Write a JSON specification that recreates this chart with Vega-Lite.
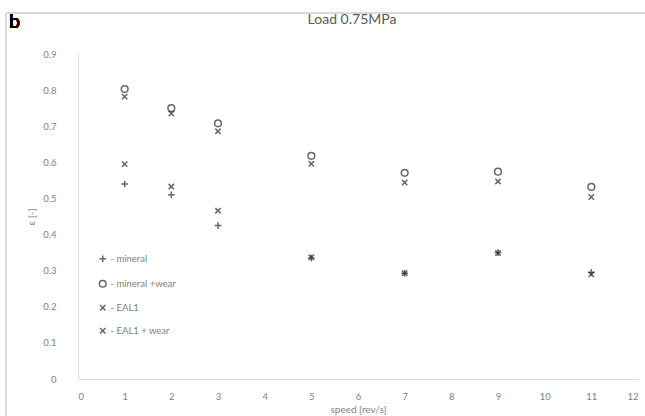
{
  "$schema": "https://vega.github.io/schema/vega-lite/v6.json",
  "width": 560,
  "height": 325,
  "autosize": "none",
  "padding": {"left": 78, "top": 54, "right": 7, "bottom": 37},
  "background": "white",
  "config": {
    "view": {"stroke": null},
    "font": "Lato",
    "axis": {"grid": false, "ticks": false, "labelOverlap": false, "domainColor": "#d9d9d9", "labelColor": "#7f7f7f", "labelFontSize": 9.5, "titleColor": "#7f7f7f", "titleFontSize": 10, "titleFontWeight": "normal"}
  },
  "title": {"text": "Load 0.75MPa", "fontSize": 14, "fontWeight": "normal", "color": "#595959", "offset": -14, "dx": -6, "font": "Lato"},
  "data": {"values": [
    {"speed": 1, "series": "mineral", "eps": 0.54},
    {"speed": 2, "series": "mineral", "eps": 0.51},
    {"speed": 3, "series": "mineral", "eps": 0.425},
    {"speed": 5, "series": "mineral", "eps": 0.335},
    {"speed": 7, "series": "mineral", "eps": 0.293},
    {"speed": 9, "series": "mineral", "eps": 0.35},
    {"speed": 11, "series": "mineral", "eps": 0.295},
    {"speed": 1, "series": "mineral +wear", "eps": 0.803},
    {"speed": 2, "series": "mineral +wear", "eps": 0.75},
    {"speed": 3, "series": "mineral +wear", "eps": 0.708},
    {"speed": 5, "series": "mineral +wear", "eps": 0.618},
    {"speed": 7, "series": "mineral +wear", "eps": 0.571},
    {"speed": 9, "series": "mineral +wear", "eps": 0.574},
    {"speed": 11, "series": "mineral +wear", "eps": 0.532},
    {"speed": 1, "series": "EAL1", "eps": 0.595},
    {"speed": 2, "series": "EAL1", "eps": 0.533},
    {"speed": 3, "series": "EAL1", "eps": 0.466},
    {"speed": 5, "series": "EAL1", "eps": 0.337},
    {"speed": 7, "series": "EAL1", "eps": 0.293},
    {"speed": 9, "series": "EAL1", "eps": 0.349},
    {"speed": 11, "series": "EAL1", "eps": 0.29},
    {"speed": 1, "series": "EAL1 + wear", "eps": 0.782},
    {"speed": 2, "series": "EAL1 + wear", "eps": 0.735},
    {"speed": 3, "series": "EAL1 + wear", "eps": 0.686},
    {"speed": 5, "series": "EAL1 + wear", "eps": 0.596},
    {"speed": 7, "series": "EAL1 + wear", "eps": 0.544},
    {"speed": 9, "series": "EAL1 + wear", "eps": 0.547},
    {"speed": 11, "series": "EAL1 + wear", "eps": 0.504}
  ]},
  "layer": [
    {
      "mark": {"type": "point", "filled": false, "strokeWidth": 1.5, "color": "#262626", "size": 45},
      "encoding": {
        "x": {"field": "speed", "type": "quantitative", "title": "speed [rev/s]",
              "scale": {"domain": [0, 12], "nice": false},
              "axis": {"values": [0,1,2,3,4,5,6,7,8,9,10,11,12], "labelPadding": 12, "titlePadding": 4, "labelOverlap": false}},
        "y": {"field": "eps", "type": "quantitative", "title": "ε [-]",
              "scale": {"domain": [0, 0.9], "nice": false},
              "axis": {"tickCount": 9, "labelExpr": "datum.value == 0 ? '0' : format(datum.value, '.1f')", "labelPadding": 22, "titlePadding": 6, "labelOverlap": false, "labelBound": false, "labelFlush": false}},
        "shape": {"field": "series", "type": "nominal",
                  "scale": {"domain": ["mineral", "mineral +wear", "EAL1", "EAL1 + wear"],
                            "range": ["M-1,0L1,0M0,-1L0,1", "circle", "M-0.8,-0.8L0.8,0.8M-0.8,0.8L0.8,-0.8", "M-0.8,-0.8L0.8,0.8M-0.8,0.8L0.8,-0.8"]},
                  "legend": {"orient": "none", "legendX": 20, "legendY": 200, "title": null, "padding": 0,
                             "labelExpr": "'- ' + datum.label", "labelColor": "#7f7f7f", "labelFontSize": 9.5, "labelFont": "Lato",
                             "symbolStrokeColor": "#262626", "symbolStrokeWidth": 1.5, "symbolSize": 45, "symbolFillColor": "transparent",
                             "rowPadding": 11, "labelOffset": 3}}
      }
    },
    {
      "mark": {"type": "rect", "fill": null, "stroke": "#d9d9d9", "strokeWidth": 1, "clip": false},
      "encoding": {
        "x": {"datum": -1.54, "type": "quantitative"},
        "x2": {"datum": 12.5},
        "y": {"datum": 1.013, "type": "quantitative"},
        "y2": {"datum": -0.2}
      }
    },
    {
      "mark": {"type": "text", "text": "b", "fontSize": 18, "font": "Open Sans", "fontWeight": "normal", "color": "black", "align": "center", "baseline": "alphabetic", "clip": false},
      "encoding": {
        "x": {"datum": -1.36, "type": "quantitative"},
        "y": {"datum": 0.972, "type": "quantitative"}
      }
    }
  ]
}
